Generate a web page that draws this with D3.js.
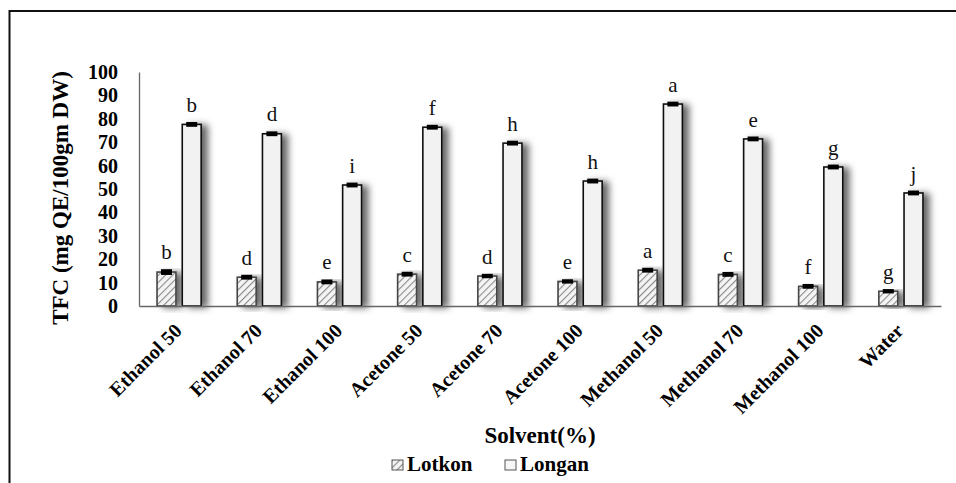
<!DOCTYPE html>
<html>
<head>
<meta charset="utf-8">
<script src="https://cdn.jsdelivr.net/npm/d3@7"></script>
<style>
  body { margin: 0; background: #fff; }
</style>
</head>
<body>
<div id="chart"></div>
<script>
// solvents on the x axis
var categories = ["Ethanol 50", "Ethanol 70", "Ethanol 100", "Acetone 50", "Acetone 70",
                  "Acetone 100", "Methanol 50", "Methanol 70", "Methanol 100", "Water"];
var seriesNames = ["Lotkon", "Longan"];
var lotkon = [14.5, 12.3, 10.3, 13.6, 12.8, 10.5, 15.3, 13.5, 8.4, 6.3];
var longan = [77.6, 73.6, 51.7, 76.4, 69.6, 53.4, 86.3, 71.4, 59.4, 48.3];
var lotkonErr = [0.8, 0.6, 0.6, 0.6, 0.5, 0.5, 0.6, 0.6, 0.6, 0.5];
var longanErr = [0.6, 0.6, 0.6, 0.6, 0.6, 0.6, 0.6, 0.6, 0.6, 0.6];
var lotkonLetters = ["b", "d", "e", "c", "d", "e", "a", "c", "f", "g"];
var longanLetters = ["b", "d", "i", "f", "h", "h", "a", "e", "g", "j"];
var yTicks = [0, 10, 20, 30, 40, 50, 60, 70, 80, 90, 100];

var width = 956, height = 483;
var margin = {left: 139, right: 15, top: 72, bottom: 177};
var serif = "'Liberation Serif', 'Times New Roman', 'DejaVu Serif', serif";

var svg = d3.select("#chart").append("svg")
    .attr("width", width)
    .attr("height", height);

var defs = svg.append("defs");
var hatch = defs.append("pattern")
    .attr("id", "hatch")
    .attr("patternUnits", "userSpaceOnUse")
    .attr("width", 5)
    .attr("height", 5)
    .attr("patternTransform", "rotate(45)");
hatch.append("rect").attr("width", 5).attr("height", 5).attr("fill", "#f4f4f4");
hatch.append("line")
    .attr("x1", 0).attr("y1", 0).attr("x2", 0).attr("y2", 5)
    .attr("stroke", "#8a8a8a").attr("stroke-width", 2.2);

var shadow = defs.append("filter")
    .attr("id", "shadow")
    .attr("x", "-50%").attr("y", "-10%")
    .attr("width", "250%").attr("height", "130%");
shadow.append("feDropShadow")
    .attr("dx", 6).attr("dy", 1)
    .attr("stdDeviation", 3.5)
    .attr("flood-color", "#000")
    .attr("flood-opacity", 0.6);

// frame around the figure
svg.append("rect")
    .attr("x", 9.5).attr("y", 11)
    .attr("width", 960).attr("height", 490)
    .attr("fill", "none")
    .attr("stroke", "#111")
    .attr("stroke-width", 2);

var x0 = d3.scaleBand()
    .domain(categories)
    .range([margin.left, width - margin.right])
    .paddingInner(0.45)
    .paddingOuter(0.225);

var x1 = d3.scaleBand()
    .domain(seriesNames)
    .range([0, x0.bandwidth()])
    .paddingInner(0.25);

var y = d3.scaleLinear()
    .domain([0, 100])
    .range([height - margin.bottom, margin.top]);

var rows = categories.map(function(c, i) {
  return {
    cat: c,
    bars: [
      {key: "Lotkon", v: lotkon[i], e: lotkonErr[i], letter: lotkonLetters[i]},
      {key: "Longan", v: longan[i], e: longanErr[i], letter: longanLetters[i]}
    ]
  };
});

// y axis
var yAxis = svg.append("g")
    .attr("transform", "translate(" + margin.left + ",0)")
    .call(d3.axisLeft(y).tickValues(yTicks).tickSize(0).tickPadding(21));
yAxis.attr("font-family", null);
yAxis.select(".domain").attr("stroke", "#666").attr("stroke-width", 1.3);
yAxis.selectAll(".tick text")
    .attr("fill", "#000")
    .style("font-family", serif)
    .style("font-size", "20px")
    .style("font-weight", "700");

var groups = svg.selectAll(".grp")
    .data(rows)
    .enter().append("g")
    .attr("class", "grp")
    .attr("transform", function(d) { return "translate(" + x0(d.cat) + ",0)"; });

var bars = groups.selectAll(".bar")
    .data(function(d) { return d.bars; })
    .enter().append("g")
    .attr("class", "bar");

bars.append("rect")
    .attr("x", function(d) { return x1(d.key); })
    .attr("y", function(d) { return y(d.v); })
    .attr("width", x1.bandwidth())
    .attr("height", function(d) { return y(0) - y(d.v); })
    .attr("fill", function(d) { return d.key === "Lotkon" ? "url(#hatch)" : "#f2f2f2"; })
    .attr("stroke", function(d) { return d.key === "Lotkon" ? "#444" : "#111"; })
    .attr("stroke-width", 1.6)
    .attr("filter", "url(#shadow)");

// error bars (tiny, look like black caps)
bars.append("line")
    .attr("x1", function(d) { return x1(d.key) + x1.bandwidth() / 2; })
    .attr("x2", function(d) { return x1(d.key) + x1.bandwidth() / 2; })
    .attr("y1", function(d) { return y(d.v + d.e); })
    .attr("y2", function(d) { return y(d.v - d.e); })
    .attr("stroke", "#000").attr("stroke-width", 2);
bars.append("rect")
    .attr("x", function(d) { return x1(d.key) + x1.bandwidth() / 2 - 5.5; })
    .attr("y", function(d) { return y(d.v + d.e) - 1; })
    .attr("width", 11)
    .attr("height", function(d) { return y(d.v - d.e) - y(d.v + d.e) + 2; })
    .attr("fill", "#000");

bars.append("text")
    .attr("x", function(d) { return x1(d.key) + x1.bandwidth() / 2; })
    .attr("y", function(d) { return y(d.v + d.e) - 11; })
    .attr("text-anchor", "middle")
    .style("font-family", serif)
    .style("font-size", "21px")
    .attr("fill", "#111")
    .text(function(d) { return d.letter; });

// x axis
var xAxis = svg.append("g")
    .attr("transform", "translate(0," + y(0) + ")")
    .call(d3.axisBottom(x0).tickSize(0).tickSizeOuter(0).tickPadding(0));
xAxis.attr("font-family", null);
xAxis.select(".domain").attr("stroke", "#666").attr("stroke-width", 1.3);
xAxis.selectAll(".tick text")
    .attr("fill", "#000")
    .style("font-family", serif)
    .style("font-size", "20px")
    .style("font-weight", "700")
    .attr("text-anchor", "end")
    .attr("dy", 0)
    .attr("transform", "translate(4,26) rotate(-45)");

// axis titles
svg.append("text")
    .attr("transform", "translate(68,198) rotate(-90)")
    .attr("text-anchor", "middle")
    .style("font-family", serif)
    .style("font-size", "23px")
    .style("font-weight", "700")
    .text("TFC (mg QE/100gm DW)");

svg.append("text")
    .attr("x", 540).attr("y", 443)
    .attr("text-anchor", "middle")
    .style("font-family", serif)
    .style("font-size", "23px")
    .style("font-weight", "700")
    .text("Solvent(%)");

// legend
var legend = svg.append("g").attr("transform", "translate(392,460)");
var legItems = legend.selectAll(".leg")
    .data(seriesNames)
    .enter().append("g")
    .attr("transform", function(d, i) { return "translate(" + (i * 113) + ",0)"; });
legItems.append("rect")
    .attr("width", 11).attr("height", 10)
    .attr("fill", function(d) { return d === "Lotkon" ? "url(#hatch)" : "#f6f6f6"; })
    .attr("stroke", "#555").attr("stroke-width", 1);
legItems.append("text")
    .attr("x", 15).attr("y", 11)
    .style("font-family", serif)
    .style("font-size", "21px")
    .style("font-weight", "700")
    .text(function(d) { return d; });
</script>
</body>
</html>
